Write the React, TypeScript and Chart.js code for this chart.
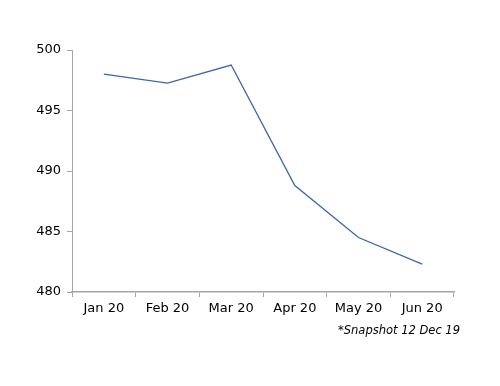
import React, { useEffect, useRef } from "react";
import { Chart, registerables } from "chart.js";

Chart.register(...registerables);

const categories = ["Jan 20", "Feb 20", "Mar 20", "Apr 20", "May 20", "Jun 20"];
const values = [498.0, 497.27, 498.76, 488.8, 484.5, 482.3];
const footnote = "*Snapshot 12 Dec 19";

const FONT = "'DejaVu Sans', Verdana, sans-serif";
const AXIS = "#a6a6a6";

const footnotePlugin = {
  id: "footnote",
  afterDraw(chart: any) {
    const { ctx, chartArea } = chart;
    ctx.save();
    ctx.font = `italic 11.5px ${FONT}`;
    ctx.fillStyle = "#000";
    ctx.textAlign = "right";
    ctx.textBaseline = "middle";
    ctx.fillText(footnote, chartArea.right + 6, chartArea.bottom + 39);
    ctx.restore();
  },
};

export default function App() {
  const ref = useRef<HTMLCanvasElement | null>(null);
  useEffect(() => {
    document.body.style.margin = "0";
    const chart = new Chart(ref.current!, {
      type: "line",
      data: {
        labels: categories,
        datasets: [
          {
            data: values,
            borderColor: "#3b64b4",
            borderWidth: 1.3,
            pointRadius: 0,
            tension: 0,
            fill: false,
          },
        ],
      },
      options: {
        responsive: false,
        animation: false,
        layout: { padding: { top: 50, left: 0, right: 46, bottom: 64 } },
        plugins: { legend: { display: false }, tooltip: { enabled: false } },
        scales: {
          x: {
            offset: true,
            grid: {
              display: true,
              drawOnChartArea: false,
              drawTicks: true,
              tickLength: 5,
              tickColor: AXIS,
              offset: true,
            },
            border: { color: AXIS, width: 1.5 },
            ticks: { color: "#000", font: { family: FONT, size: 13 }, padding: 4, maxRotation: 0 },
            afterFit(scale: any) {
              scale.height = 30;
            },
          },
          y: {
            min: 480,
            max: 500,
            grid: {
              display: true,
              drawOnChartArea: false,
              drawTicks: true,
              tickLength: 5,
              tickColor: AXIS,
            },
            border: { color: AXIS, width: 1 },
            ticks: { stepSize: 5, color: "#000", font: { family: FONT, size: 13 }, padding: 6 },
            afterFit(scale: any) {
              scale.width = 72;
            },
          },
        },
      },
      plugins: [footnotePlugin],
    });
    return () => chart.destroy();
  }, []);
  return <canvas ref={ref} width={500} height={386} style={{ display: "block" }} />;
}
